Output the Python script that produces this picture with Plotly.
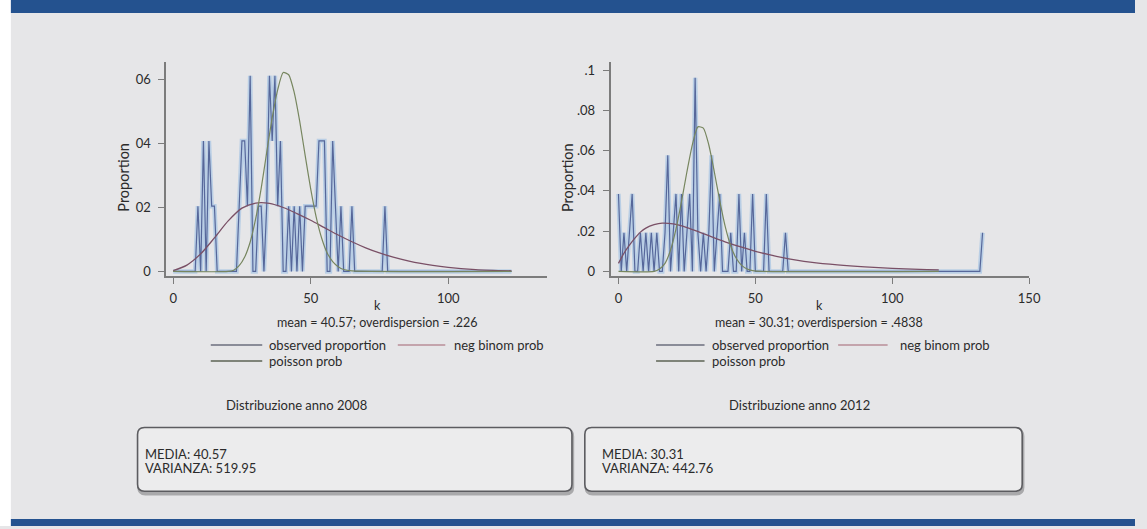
import plotly.graph_objects as go

W, H = 1147, 529

# ---------------------------------------------------------------- data ----
# 2008: observed proportion by k, negative binomial and Poisson probabilities
k_2008 = list(range(0, 79)) + [123]
obs_2008 = [
    0, 0, 0, 0, 0, 0, 0, 0, 0, .0204,
    0, .0408, 0, .0408, .0204, .0204, 0, 0, 0, 0,
    0, 0, 0, 0, .0204, .0408, .0408, .0204, .0612, 0,
    0, .0204, .0204, 0, .0204, .0612, .0408, .0612, .0204, .0408,
    0, 0, .0204, 0, .0204, 0, .0204, 0, .0204, .0204,
    .0204, .0204, .0204, .0408, .0408, .0408, 0, 0, .0408, .0204,
    0, .0204, 0, 0, 0, .0204, 0, 0, 0, 0,
    0, 0, 0, 0, 0, 0, 0, .0204, 0,
    0,
]
nb_k_2008 = [0, 5, 10, 15, 20, 25, 30, 35, 40, 45, 50, 55, 60, 65, 70, 75, 80,
             90, 100, 110, 123]
nb_2008 = [.0003, .0020, .0055, .0105, .0158, .0198, .0214, .0213, .0200, .0181,
           .0160, .0137, .0114, .0093, .0074, .0058, .0045, .0025, .0013, .0006,
           .0002]
po_k_2008 = [0, 20, 22, 24, 26, 28, 30, 32, 34, 36, 38, 40, 42, 44, 46, 48, 50,
             52, 54, 56, 58, 60, 62, 65, 123]
po_2008 = [0, 0, .0004, .0018, .0045, .0092, .0165, .0260, .0372, .0480, .0568,
           .0622, .0615, .0560, .0470, .0362, .0258, .0170, .0104, .0058, .0031,
           .0015, .0006, .0002, 0]

# 2012
k_2012 = list(range(0, 63)) + [132, 133]
obs_2012 = [
    .0385, 0, .0192, 0, .0192, .0385, 0, 0, .0192, 0,
    .0192, 0, .0192, 0, .0192, 0, 0, .0192, .0577, 0,
    .0192, .0385, 0, .0385, 0, .0192, .0385, 0, .0962, .0192,
    0, .0192, 0, .0192, .0577, 0, .0192, .0385, 0, 0,
    0, .0192, 0, 0, .0385, 0, .0192, 0, 0, .0385,
    0, 0, 0, 0, .0385, 0, 0, 0, 0, 0,
    0, .0192, 0,
    0, .0192,
]
nb_k_2012 = [0, 2, 4, 6, 8, 10, 13, 16, 20, 25, 30, 35, 40, 45, 50, 55, 60, 65,
             70, 80, 90, 100, 110, 117]
nb_2012 = [.0040, .0090, .0130, .0165, .0195, .0215, .0232, .0240, .0236, .0218,
           .0193, .0167, .0142, .0120, .0100, .0083, .0068, .0056, .0046, .0032,
           .0022, .0015, .0010, .0008]
po_k_2012 = [0, 13, 15, 17, 19, 21, 23, 25, 27, 29, 31, 33, 35, 37, 39, 41, 43,
             45, 47, 49, 52, 117]
po_2012 = [0, 0, .0012, .0040, .0105, .0210, .0345, .0495, .0630, .0718, .0712,
           .0628, .0495, .0350, .0222, .0126, .0065, .0030, .0012, .0004, 0, 0]

summary = {
    "2008": {"mean": "40.57", "disp": ".226", "var": "519.95"},
    "2012": {"mean": "30.31", "disp": ".4838", "var": "442.76"},
}

x_ticks_2008 = [0, 50, 100]
x_ticks_2012 = [0, 50, 100, 150]
y_ticks_2008 = [0, .02, .04, .06]
y_ticktext_2008 = ["0", "02", "04", "06"]
y_ticks_2012 = [0, .02, .04, .06, .08, .1]
y_ticktext_2012 = ["0", ".02", ".04", ".06", ".08", ".1"]

legend_labels = ["observed proportion", "neg binom prob", "poisson prob"]

# -------------------------------------------------------------- styling ---
FONT = "Lato, 'Open Sans', sans-serif"
TXT = "#2b2b2b"
AXIS = "#7c7c7c"
BG = "#e6e6e8"
BLUE = "#24528f"
OBS_CORE = "#56679a"
OBS_HALO = "rgba(125,175,225,0.42)"
NB_COL = "#7a5066"
PO_COL = "#77865f"


def fx(px):
    return px / W


def fy(py):
    return 1 - py / H


fig = go.Figure()


def add_panel(xa, ya, k, obs, nbk, nb, pok, po):
    fig.add_trace(go.Scatter(x=k, y=obs, mode="lines", xaxis=xa, yaxis=ya,
                             line=dict(color=OBS_HALO, width=4.5),
                             hoverinfo="skip", showlegend=False))
    fig.add_trace(go.Scatter(x=k, y=obs, mode="lines", xaxis=xa, yaxis=ya,
                             line=dict(color=OBS_CORE, width=1.2),
                             name=legend_labels[0], showlegend=False))
    fig.add_trace(go.Scatter(x=nbk, y=nb, mode="lines", xaxis=xa, yaxis=ya,
                             line=dict(color=NB_COL, width=1.3, shape="spline",
                                       smoothing=0.8),
                             name=legend_labels[1], showlegend=False))
    fig.add_trace(go.Scatter(x=pok, y=po, mode="lines", xaxis=xa, yaxis=ya,
                             line=dict(color=PO_COL, width=1.2, shape="spline",
                                       smoothing=0.6),
                             name=legend_labels[2], showlegend=False))


add_panel("x", "y", k_2008, obs_2008, nb_k_2008, nb_2008, po_k_2008, po_2008)
add_panel("x2", "y2", k_2012, obs_2012, nb_k_2012, nb_2012, po_k_2012, po_2012)

axis_common = dict(showline=True, linecolor=AXIS, linewidth=1.6, ticks="outside",
                   ticklen=6, tickcolor=AXIS, tickwidth=1.3, showgrid=False,
                   zeroline=False, tickfont=dict(family=FONT, size=13, color=TXT))

y_dom = [fy(278), fy(62)]
fig.update_layout(
    width=W, height=H,
    margin=dict(l=0, r=0, t=0, b=0),
    paper_bgcolor=BG, plot_bgcolor="rgba(0,0,0,0)",
    showlegend=False,
    xaxis=dict(domain=[fx(168), fx(553)], range=[-2.52, 136], anchor="y",
               tickvals=x_ticks_2008, ticklabelstandoff=3, **axis_common),
    yaxis=dict(domain=y_dom, range=[-0.00155, 0.0656], anchor="x",
               tickvals=y_ticks_2008, ticktext=y_ticktext_2008,
               ticklabelstandoff=5, **axis_common),
    xaxis2=dict(domain=[fx(617), fx(1040)], range=[-2.9, 150], anchor="y2",
                tickvals=x_ticks_2012, ticklabelstandoff=3, **axis_common),
    yaxis2=dict(domain=y_dom, range=[-0.0025, 0.1042], anchor="x2",
                tickvals=y_ticks_2012, ticktext=y_ticktext_2012,
                ticklabelstandoff=5, **axis_common),
)

shapes = []
# page frame: white strip on the left, blue bands top and bottom
shapes.append(dict(type="rect", xref="paper", yref="paper", x0=0, x1=fx(11),
                   y0=0, y1=1, fillcolor="white", line=dict(width=0), layer="below"))
shapes.append(dict(type="rect", xref="paper", yref="paper", x0=fx(11), x1=1,
                   y0=fy(13), y1=1, fillcolor=BLUE, line=dict(width=0), layer="below"))
shapes.append(dict(type="rect", xref="paper", yref="paper", x0=fx(11), x1=1,
                   y0=0, y1=fy(522), fillcolor=BLUE, line=dict(width=0), layer="below"))


def rounded(x0, y0, x1, y1, r):
    return (f"M {fx(x0 + r)},{fy(y0)} L {fx(x1 - r)},{fy(y0)} "
            f"Q {fx(x1)},{fy(y0)} {fx(x1)},{fy(y0 + r)} "
            f"L {fx(x1)},{fy(y1 - r)} Q {fx(x1)},{fy(y1)} {fx(x1 - r)},{fy(y1)} "
            f"L {fx(x0 + r)},{fy(y1)} Q {fx(x0)},{fy(y1)} {fx(x0)},{fy(y1 - r)} "
            f"L {fx(x0)},{fy(y0 + r)} Q {fx(x0)},{fy(y0)} {fx(x0 + r)},{fy(y0)} Z")


for bx0, bx1 in [(139, 578), (591, 1033)]:
    shapes.append(dict(type="path", xref="paper", yref="paper",
                       path=rounded(bx0 + 1, 432, bx1 + 1, 497, 7),
                       fillcolor="#a9a9ab", line=dict(color="#a9a9ab", width=2.5),
                       layer="below"))
    shapes.append(dict(type="path", xref="paper", yref="paper",
                       path=rounded(bx0, 430, bx1, 494, 7),
                       fillcolor="#ececed", line=dict(color="#5c5c60", width=1.6),
                       layer="below"))

# legend keys
key_cols = ["#8a8c98", "#c4a4ac", "#7f8479"]
legend_pos = {
    "2008": [(213, 265, 347, 270), (402, 450, 347, 457), (213, 265, 363, 270)],
    "2012": [(663, 712, 347, 718), (847, 897, 347, 907), (663, 712, 363, 718)],
}
annotations = []


def label(x, y, text, anchor="center", size=13, angle=0):
    annotations.append(dict(x=fx(x), y=fy(y), xref="paper", yref="paper",
                            text=text, showarrow=False, xanchor=anchor,
                            yanchor="middle", textangle=angle,
                            font=dict(family=FONT, size=size, color=TXT)))


for year, entries in legend_pos.items():
    for (lx0, lx1, ly, tx), col, lab in zip(entries, key_cols, legend_labels):
        shapes.append(dict(type="line", xref="paper", yref="paper",
                           x0=fx(lx0), x1=fx(lx1), y0=fy(ly), y1=fy(ly),
                           line=dict(color=col, width=2)))
        label(tx, ly, lab, anchor="left")

panel_text = {
    "2008": dict(prop_x=125, k_x=381, title_x=300, box_x=145),
    "2012": dict(prop_x=574, k_x=828, title_x=808, box_x=606),
}
for year, p in panel_text.items():
    s = summary[year]
    label(p["prop_x"], 178, "Proportion", size=14.5, angle=-90)
    label(p["k_x"], 307, "k", size=12.5)
    label(p["k_x"], 324.5, f"mean = {s['mean']}; overdispersion = {s['disp']}",
          size=12.5)
    label(p["title_x"], 407, f"Distribuzione anno {year}")
    label(p["box_x"], 457, f"MEDIA: {s['mean']}", anchor="left")
    label(p["box_x"], 471, f"VARIANZA: {s['var']}", anchor="left")

fig.update_layout(shapes=shapes, annotations=annotations)
fig.write_html("out.html")
